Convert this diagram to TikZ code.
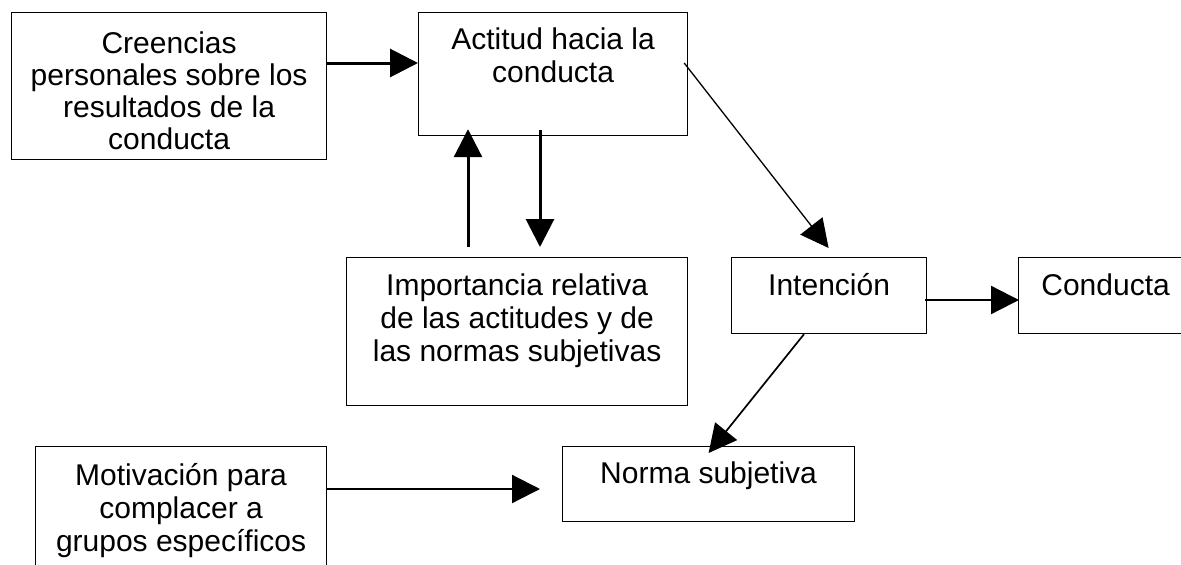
\documentclass[tikz,border=0pt]{standalone}
\usepackage{fontspec}
\setmainfont{Liberation Sans}
\usetikzlibrary{arrows.meta}
\begin{document}
\begin{tikzpicture}[x=1pt,y=-1pt,
  box/.style={draw, line width=1.2pt, inner sep=0pt, anchor=north west},
  txt/.style={font=\fontsize{30pt}{33pt}\selectfont, align=center, inner sep=0pt, anchor=north},
  arr/.style={-{Triangle[length=28pt,width=28pt]}, line width=#1},
  arr/.default=2pt]
\useasboundingbox (0,0) rectangle (1181,565);
% boxes
\node[box, minimum width=315pt, minimum height=147pt] (cre) at (11,12) {};
\node[box, minimum width=269pt, minimum height=123pt] (act) at (418,12) {};
\node[box, minimum width=341pt, minimum height=148pt] (imp) at (346,257) {};
\node[box, minimum width=195pt, minimum height=76pt] (int) at (731,257) {};
\node[box, minimum width=174pt, minimum height=76pt] (con) at (1018,257) {};
\node[box, minimum width=292pt, minimum height=75pt] (nor) at (562,446) {};
\node[box, minimum width=291pt, minimum height=147pt] (mot) at (35,446) {};
% texts
\node[txt, font=\fontsize{30pt}{32pt}\selectfont] (cre-t) at ([yshift=-18.6pt]cre.north) {\strut Creencias\\personales sobre los\\resultados de la\\conducta};
\node[txt] (act-t) at ([yshift=-13.9pt]act.north) {\strut Actitud hacia la\\conducta};
\node[txt] (imp-t) at ([yshift=-14.9pt]imp.north) {\strut Importancia relativa\\de las actitudes y de\\las normas subjetivas};
\node[txt] (int-t) at ([yshift=-14.9pt]int.north) {\strut Intención};
\node[txt] (con-t) at ([yshift=-14.9pt]con.north) {\strut Conducta};
\node[txt] (nor-t) at ([yshift=-13.9pt]nor.north) {\strut Norma subjetiva};
\node[txt] (mot-t) at ([yshift=-15.9pt]mot.north) {\strut Motivación para\\complacer a\\grupos específicos};
% connectors
\draw[arr=3pt] ([yshift=-51pt]cre.north east) -- ([yshift=-51pt]act.north west);
\draw[arr=3pt] ([xshift=122pt,yshift=10pt]imp.north west) -- ([xshift=50pt,yshift=7pt]act.south west);
\draw[arr=3pt] ([xshift=122pt,yshift=6pt]act.south west) -- ([xshift=194pt,yshift=10pt]imp.north west);
\draw[arr=1.3pt] ([xshift=-4pt,yshift=-51pt]act.north east) -- ([xshift=-0.5pt,yshift=9pt]int.north);
\draw[arr=2.3pt] ([xshift=-2pt,yshift=-43pt]int.north east) -- ([xshift=1pt,yshift=-43pt]con.north west);
\draw[arr=1.7pt] ([xshift=73pt]int.south west) -- ([yshift=-7pt]nor.north);
\draw[arr=2.2pt] ([yshift=-43pt]mot.north east) -- ([xshift=-22pt,yshift=-43pt]nor.north west);
\end{tikzpicture}
\end{document}
